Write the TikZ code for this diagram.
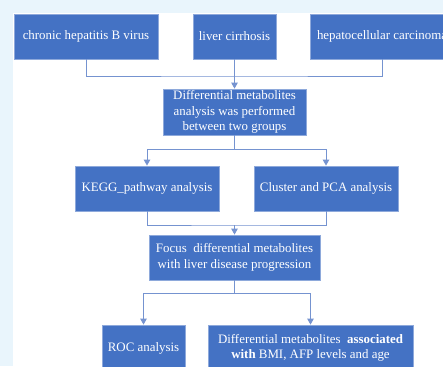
\documentclass[tikz,border=0pt]{standalone}
\usepackage{fontspec}
\setmainfont{Liberation Serif}
\usetikzlibrary{arrows.meta}
\definecolor{bgblue}{HTML}{E9F5FC}
\definecolor{boxblue}{HTML}{4472C4}
\definecolor{edgeblue}{HTML}{8EA9DB}
\definecolor{lineblue}{HTML}{7593D0}
\tikzset{
  box/.style={draw=edgeblue, line width=0.8pt, fill=boxblue, text=white, align=center,
    inner sep=1pt, font=\fontsize{12.9}{15.6}\selectfont},
  conn/.style={draw=lineblue, line width=0.9pt},
  arr/.style={conn, -{Triangle[width=6.5pt,length=6pt]}}
}
\begin{document}
\begin{tikzpicture}[x=1pt,y=-1pt]
\useasboundingbox (0,0) rectangle (443,366);
\clip (0,0) rectangle (443,366);
\fill[bgblue] (0,0) rectangle (443,366);
\fill[white] (13,13) rectangle (443,366);

\node[box, minimum width=144pt, minimum height=45pt] (b1) at (86,36.5) {chronic hepatitis B virus};
\node[box, minimum width=83pt, minimum height=45pt] (b2) at (234.5,36.5) {liver cirrhosis};
\node[box, minimum width=144pt, minimum height=45pt] (b3) at (382,36.5) {hepatocellular carcinoma};

\node[box, minimum width=143pt, minimum height=46pt] (b4) at (234.5,112) {Differential metabolites\\analysis was performed\\between two groups};

\node[box, minimum width=144pt, minimum height=45pt] (b5) at (147,188.5) {KEGG\_pathway analysis};
\node[box, minimum width=144pt, minimum height=45pt] (b6) at (326,188.5) {Cluster and PCA analysis};

\node[box, minimum width=171pt, minimum height=45pt] (b7) at (234.5,257.5) {Focus\ \ differential metabolites\\with liver disease progression};

\node[box, minimum width=83pt, minimum height=46pt] (b8) at (143.5,348) {ROC analysis};
\node[box, minimum width=205pt, minimum height=46pt] (b9) at (310.5,348) {Differential metabolites\ \ \textbf{associated}\\\textbf{with} BMI, AFP levels and age};

\coordinate (j1) at (234.5,76);
\coordinate (s1) at (234.5,149);
\coordinate (j2) at (234.5,225);
\coordinate (s2) at (234.5,293);

\draw[conn] (b1.south) |- (j1) -| (b3.south);
\draw[arr] (b2.south) -- (b4.north);

\draw[conn] (b4.south) -- (s1);
\draw[arr] (s1) -| (b5.north);
\draw[arr] (s1) -| (b6.north);

\draw[conn] (b5.south) |- (j2) -| (b6.south);
\draw[arr] (j2) -- (b7.north);

\draw[conn] (b7.south) -- (s2);
\draw[arr] (s2) -| (b8.north);
\draw[arr] (s2) -| (b9.north);
\end{tikzpicture}
\end{document}
